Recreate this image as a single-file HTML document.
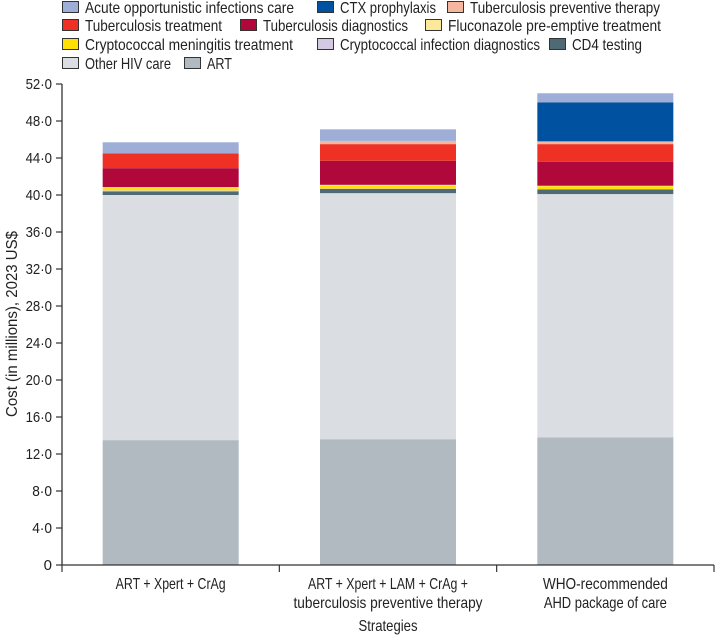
<!DOCTYPE html>
<html><head><meta charset="utf-8"><style>
html,body{margin:0;padding:0;background:#fff;}
svg{display:block;font-family:"Liberation Sans",sans-serif;}
</style></head><body>
<svg id="chart" width="715" height="635" viewBox="0 0 715 635" xmlns="http://www.w3.org/2000/svg">
<g id="legend"></g>
<g id="bars"></g>
<g id="axes"></g>
</svg>
<script>
const categories = [["ART + Xpert + CrAg"], ["ART + Xpert + LAM + CrAg +", "tuberculosis preventive therapy"], ["WHO-recommended", "AHD package of care"]];
const seriesNames = ["ART", "Other HIV care", "CD4 testing", "Cryptococcal infection diagnostics", "Cryptococcal meningitis treatment", "Fluconazole pre-emptive treatment", "Tuberculosis diagnostics", "Tuberculosis treatment", "Tuberculosis preventive therapy", "CTX prophylaxis", "Acute opportunistic infections care"];
const seriesColors = ["#b1b9c1", "#dadde2", "#4e6a75", "#d4c8e2", "#ffe000", "#fde99a", "#b0083a", "#ee3124", "#f6b59f", "#00519f", "#9eaed7"];
const valART = [13.5, 13.6, 13.8];
const valOtherHIV = [26.5, 26.6, 26.3];
const valCD4 = [0.4, 0.45, 0.5];
const valCryptoDx = [0.1, 0.05, 0.05];
const valCryptoTx = [0.25, 0.3, 0.3];
const valFluco = [0.1, 0.1, 0.05];
const valTBDx = [2.05, 2.6, 2.6];
const valTBTx = [1.6, 1.8, 1.9];
const valTPT = [0, 0.35, 0.3];
const valCTX = [0, 0, 4.2];
const valAcute = [1.2, 1.25, 1.0];
const yTicks = [0, 4, 8, 12, 16, 20, 24, 28, 32, 36, 40, 44, 48, 52];
const yTickLabels = ["0", "4·0", "8·0", "12·0", "16·0", "20·0", "24·0", "28·0", "32·0", "36·0", "40·0", "44·0", "48·0", "52·0"];

const series = [valART, valOtherHIV, valCD4, valCryptoDx, valCryptoTx, valFluco, valTBDx, valTBTx, valTPT, valCTX, valAcute];
const NS = "http://www.w3.org/2000/svg";
const X0 = 62, X1 = 714, Y0 = 565, YTOP = 84;
const yScale = v => Y0 - v * (Y0 - YTOP) / 52;
const band = (X1 - X0) / categories.length;
const xCenter = i => X0 + band * (i + 0.5);
const barW = 136;

function mk(tag, attrs, parent) {
  const e = document.createElementNS(NS, tag);
  for (const k in attrs) e.setAttribute(k, attrs[k]);
  parent.appendChild(e);
  return e;
}

// bars
const gb = document.getElementById("bars");
categories.forEach((c, i) => {
  let cum = 0;
  series.forEach((s, k) => {
    const v = s[i];
    if (v <= 0) { return; }
    const yTop = yScale(cum + v), yBot = yScale(cum);
    const r = mk("rect", {x: xCenter(i) - barW / 2, y: yTop, width: barW, height: Math.max(0, yBot - yTop), fill: seriesColors[k]}, gb);
    
    
    cum += v;
  });
});

// axes
const ga = document.getElementById("axes");
const yl = mk("line", {x1: X0, y1: YTOP, x2: X0, y2: Y0, stroke: "#333", "stroke-width": 1.3}, ga);


const xl = mk("line", {x1: X0, y1: Y0, x2: X1, y2: Y0, stroke: "#333", "stroke-width": 1.3}, ga);


yTicks.forEach((t, i) => {
  const y = yScale(t);
  const tk = mk("line", {x1: X0 - 6, y1: y, x2: X0, y2: y, stroke: "#333", "stroke-width": 1.2}, ga);
  
  
  const tx = mk("text", {x: 52, y: y + 5, "text-anchor": "end", "font-size": 15, fill: "#222"}, ga);
  if (yTickLabels[i].length > 1) { tx.setAttribute("textLength", yTickLabels[i].length * 6.6); tx.setAttribute("lengthAdjust", "spacingAndGlyphs"); }
  tx.textContent = yTickLabels[i];
  
  
});
for (let i = 0; i <= categories.length; i++) {
  const x = X0 + band * i;
  const tk = mk("line", {x1: x, y1: Y0, x2: x, y2: Y0 + 7, stroke: "#333", "stroke-width": 1.2}, ga);
  
  
}
const catWidths = [[110], [160, 189], [125, 123]];
categories.forEach((lines, i) => {
  lines.forEach((ln, j) => {
    const t = mk("text", {x: xCenter(i), y: 589 + j * 19, "text-anchor": "middle", "font-size": 16, fill: "#222", textLength: catWidths[i][j], lengthAdjust: "spacingAndGlyphs"}, ga);
    t.textContent = ln;
    
    
  });
});
const xt = mk("text", {x: 388, y: 631, "text-anchor": "middle", "font-size": 16, fill: "#222", textLength: 59, lengthAdjust: "spacingAndGlyphs"}, ga);
xt.textContent = "Strategies";


const yt = mk("text", {x: 0, y: 0, "text-anchor": "middle", "font-size": 16, fill: "#222", transform: "translate(17,324) rotate(-90)", textLength: 186, lengthAdjust: "spacingAndGlyphs"}, ga);
yt.textContent = "Cost (in millions), 2023 US$";



// legend
const gl = document.getElementById("legend");
const legendItems = [
  [10, 62, 209, 7], [9, 317, 96, 7], [8, 447, 190, 7],
  [7, 62, 137, 25], [6, 240, 145, 25], [5, 425, 213, 25],
  [4, 62, 208, 44], [3, 317, 200, 44], [2, 549, 70, 44],
  [1, 62, 86, 63], [0, 184, 25, 63]
];
legendItems.forEach(([k, x, w, cy]) => {
  const b = mk("rect", {x: x + 0.5, y: cy - 5.5, width: 16, height: 11, fill: seriesColors[k], stroke: "#333", "stroke-width": 1}, gl);
  
  
  const t = mk("text", {x: x + 23, y: cy + 6, "font-size": 16, fill: "#222", textLength: w, lengthAdjust: "spacingAndGlyphs"}, gl);
  t.textContent = seriesNames[k];
  
  
});
</script>
</body></html>
